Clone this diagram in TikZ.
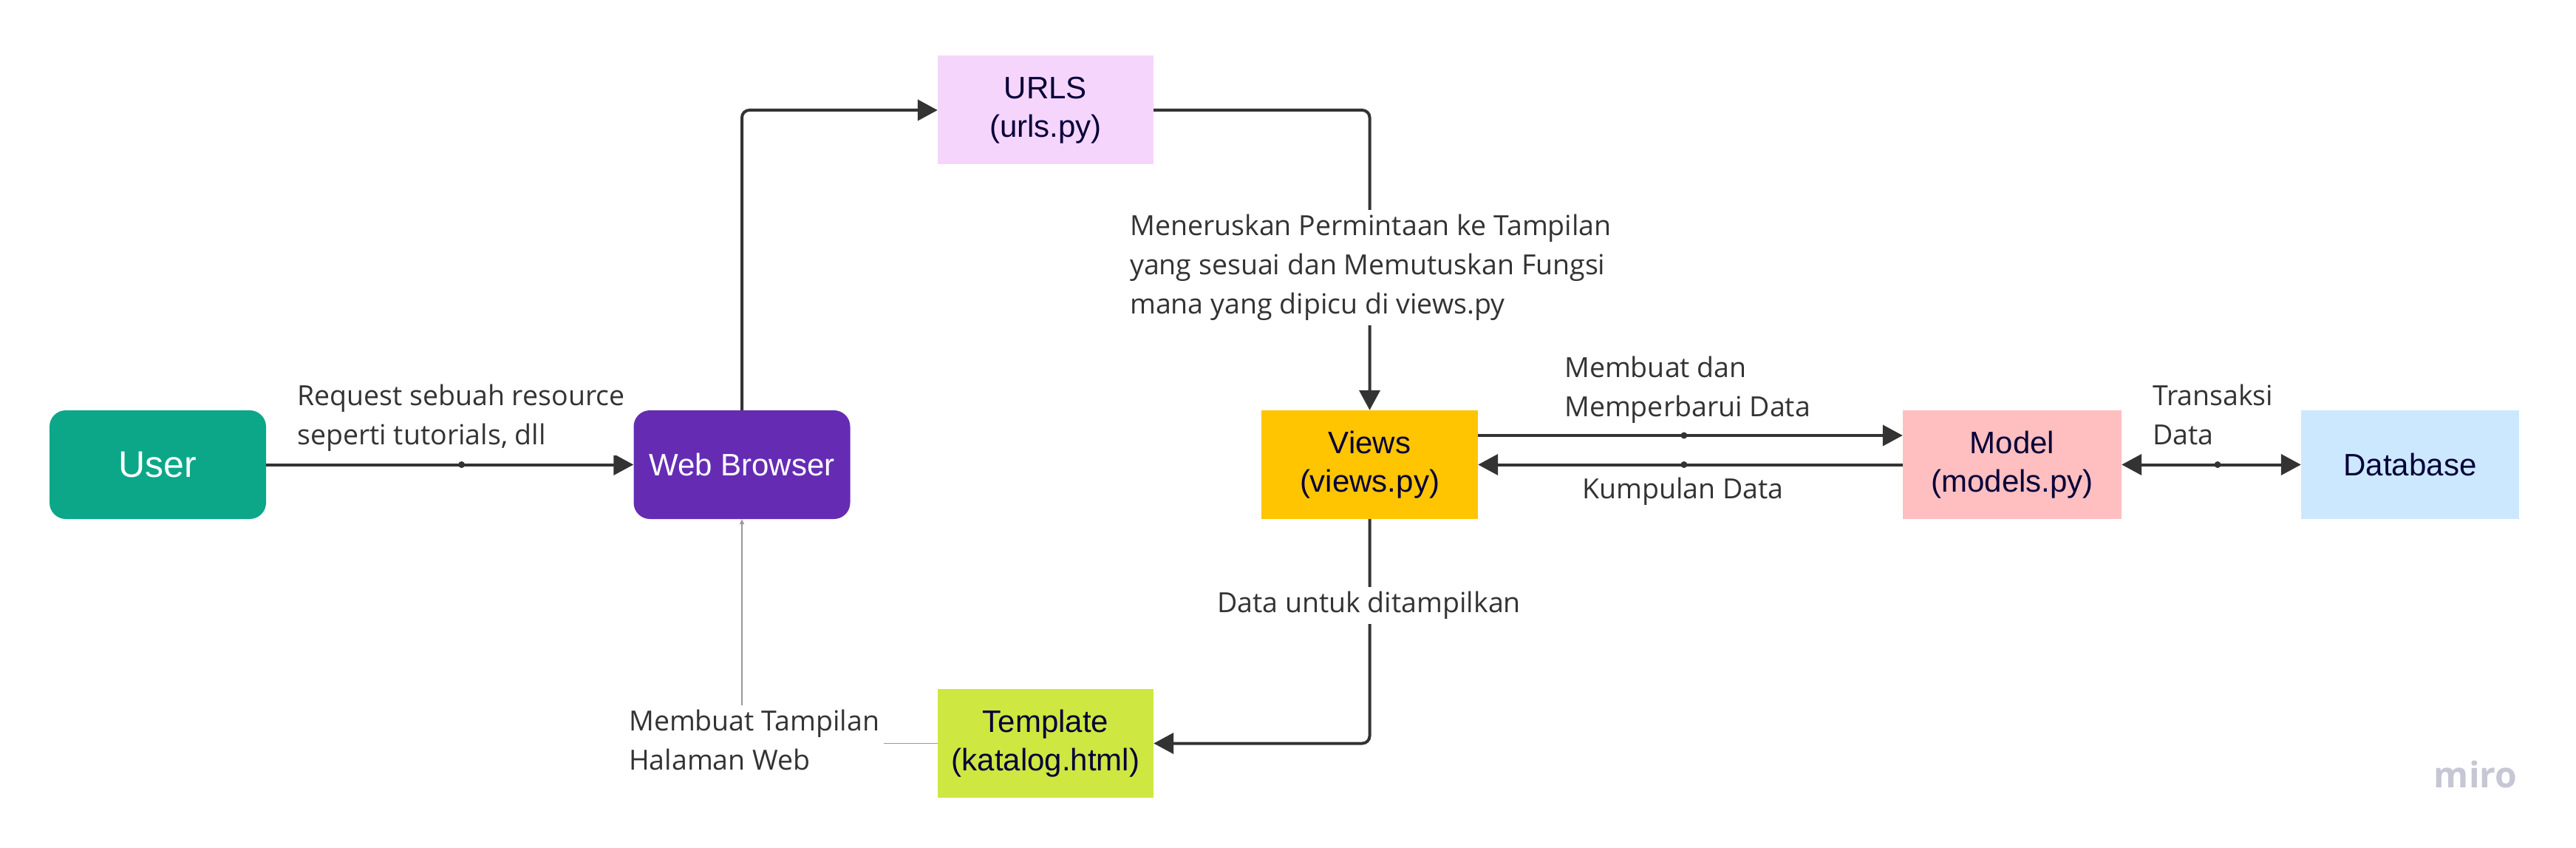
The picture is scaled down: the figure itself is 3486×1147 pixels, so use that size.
\documentclass[tikz,border=0pt]{standalone}
\usepackage{fontspec}
\setmainfont{Open Sans}
\newfontfamily\nodefont{Liberation Sans}
\usetikzlibrary{arrows.meta,calc}
\definecolor{cUser}{HTML}{0CA789}
\definecolor{cWB}{HTML}{652CB3}
\definecolor{cURL}{HTML}{F6D5FD}
\definecolor{cViews}{HTML}{FFC500}
\definecolor{cModel}{HTML}{FFBFC0}
\definecolor{cDB}{HTML}{CCE8FF}
\definecolor{cTmpl}{HTML}{CEE741}
\definecolor{navy}{HTML}{050038}
\definecolor{lbl}{HTML}{333333}
\definecolor{linec}{HTML}{333333}
\definecolor{thinc}{HTML}{9A9A9A}
\definecolor{mirog}{HTML}{C6C6D4}
\begin{document}
\begin{tikzpicture}[x=1pt,y=-1pt,
 box/.style={rectangle, inner sep=0pt, minimum width=294pt, minimum height=147pt, align=center, font=\nodefont\fontsize{42}{52}\selectfont, text=navy},
 rbox/.style={box, rounded corners=22pt, text=white},
 conn/.style={draw=linec, line width=4pt, -{Triangle[length=27pt,width=28pt]}},
 lab/.style={fill=white, inner sep=6pt, align=left, text=lbl, anchor=west, font=\fontsize{37.5}{53}\selectfont},
 mdot/.style={circle, fill=linec, inner sep=0pt, minimum size=9pt},
]
\useasboundingbox (0,0) rectangle (3486,1147);
\fill[white] (0,0) rectangle (3486,1147);

\node[rbox, fill=cUser, minimum width=293pt, font=\nodefont\fontsize{50}{60}\selectfont] (user) at (213.5,628.5) {User};
\node[rbox, fill=cWB, minimum width=293pt] (wb) at (1004,628.5) {Web Browser};
\node[box, fill=cURL, minimum width=292pt] (urls) at (1415,149) {URLS\\(urls.py)};
\node[box, fill=cViews, minimum width=293pt] (views) at (1853.5,628.5) {Views\\(views.py)};
\node[box, fill=cModel, minimum width=296pt] (model) at (2723,628.5) {Model\\(models.py)};
\node[box, fill=cDB, minimum width=295pt] (db) at (3261.5,628.5) {Database};
\node[box, fill=cTmpl, minimum width=292pt] (tmpl) at (1415,1005.5) {Template\\(katalog.html)};

% connectors
\draw[conn] (user.east) -- node[mdot, pos=0.532] (d1) {} (wb.west);
\draw[conn, rounded corners=10pt] (wb.north) |- (urls.west);
\draw[conn, rounded corners=10pt] (urls.east) -| (views.north);
\draw[conn] ($(views.east)+(0,-39.5)$) -- node[mdot, pos=0.485] (d2) {} ($(model.west)+(0,-39.5)$);
\draw[conn] (model.west) -- node[mdot, pos=0.515] (d3) {} (views.east);
\draw[conn, {Triangle[length=27pt,width=28pt]}-{Triangle[length=27pt,width=28pt]}] (model.east) -- node[mdot, pos=0.535] (d4) {} (db.west);
\draw[conn, rounded corners=10pt] (views.south) |- (tmpl.east);
\draw[draw=thinc, line width=1.5pt, -{Triangle[length=7pt,width=6pt]}] (tmpl.west) -| (wb.south);

% labels
\node[lab] (l1) at (396,565) {Request sebuah resource\\seperti tutorials, dll};
\node[lab] (l2) at (1523,362) {Meneruskan Permintaan ke Tampilan\\yang sesuai dan Memutuskan Fungsi\\mana yang dipicu di views.py};
\node[lab] (l3) at (2111,527) {Membuat dan\\Memperbarui Data};
\node[lab] (l4) at (2135,665) {Kumpulan Data};
\node[lab] (l5) at (2907,561) {Transaksi\\Data};
\node[lab] (l6) at (1641,819) {Data untuk ditampilkan};
\node[lab] (l7) at (845,1001) {Membuat Tampilan\\Halaman Web};

\node[text=mirog, font=\bfseries\fontsize{48}{48}\selectfont, anchor=base, inner sep=0pt] (miro) at (3350,1065) {miro};
\end{tikzpicture}
\end{document}
